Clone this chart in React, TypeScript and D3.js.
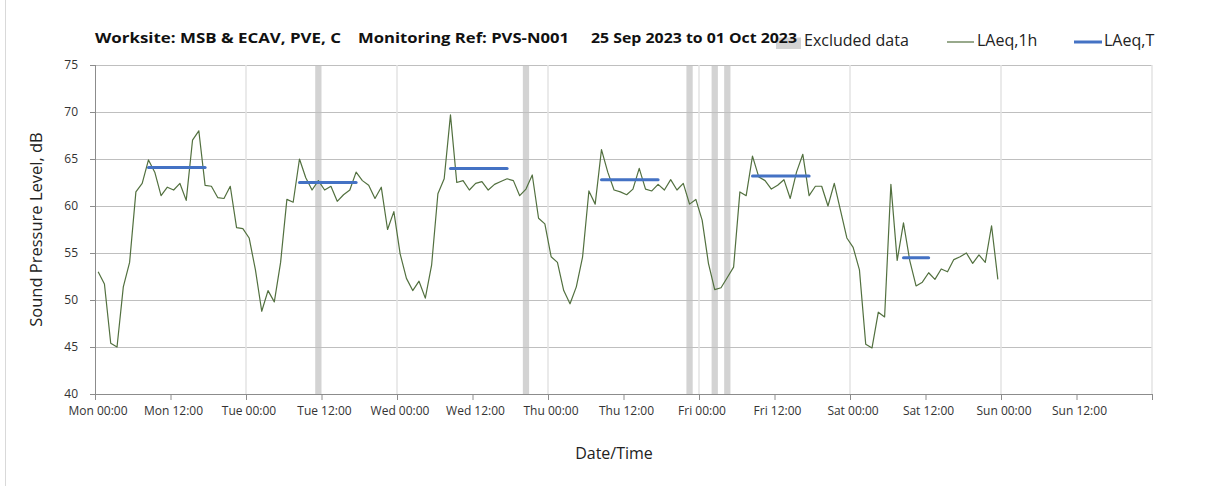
import React from 'react'
import * as d3 from 'd3'

// hourly LAeq,1h values, one array per day (points at hh:30)
const mon = [53.0, 51.7, 45.4, 45.0, 51.4, 54.0, 61.5, 62.4, 64.9, 63.6, 61.1, 62.0, 61.7, 62.4, 60.6, 67.0, 68.0, 62.2, 62.1, 60.9, 60.8, 62.1, 57.7, 57.6]
const tue = [56.6, 53.2, 48.8, 51.0, 49.8, 54.0, 60.7, 60.4, 65.0, 63.0, 61.7, 62.7, 61.7, 62.1, 60.5, 61.2, 61.7, 63.6, 62.7, 62.2, 60.8, 62.0, 57.5, 59.4]
const wed = [54.9, 52.3, 51.0, 52.0, 50.2, 53.7, 61.3, 62.9, 69.7, 62.5, 62.7, 61.7, 62.4, 62.6, 61.7, 62.3, 62.6, 62.9, 62.7, 61.1, 61.8, 63.3, 58.7, 58.1]
const thu = [54.6, 54.0, 51.0, 49.6, 51.4, 54.6, 61.6, 60.2, 66.0, 63.6, 61.7, 61.5, 61.2, 61.8, 64.0, 61.8, 61.6, 62.3, 61.7, 62.8, 61.7, 62.4, 60.2, 60.7]
const fri = [58.5, 53.9, 51.1, 51.3, 52.4, 53.5, 61.5, 61.1, 65.3, 63.1, 62.7, 61.8, 62.2, 62.8, 60.8, 63.6, 65.5, 61.1, 62.1, 62.1, 60.0, 62.4, 59.5, 56.6]
const sat = [55.6, 53.2, 45.3, 44.9, 48.7, 48.2, 62.3, 54.2, 58.2, 54.2, 51.5, 51.9, 52.9, 52.2, 53.3, 53.0, 54.3, 54.6, 55.0, 53.9, 54.8, 54.0, 57.9, 52.2]

// LAeq,T daytime periods (hours from Mon 00:00)
const periodStart = [8.5, 32.5, 56.5, 80.5, 104.5, 128.5]
const periodEnd = [17.5, 41.5, 65.5, 89.5, 113.5, 132.5]
const periodLevel = [64.1, 62.5, 64.0, 62.8, 63.2, 54.5]

// excluded data, hour slots from Mon 00:00
const excludedHours = [35, 68, 94, 98, 100]

const dayNames = ['Mon', 'Tue', 'Wed', 'Thu', 'Fri', 'Sat', 'Sun']
const yTicks = [40, 45, 50, 55, 60, 65, 70, 75]

const font = '"Open Sans", sans-serif'
const lineColor = '#52703f'
const blue = '#4472c4'

export default function App() {
  const margin = { left: 95, right: 1152, top: 65, bottom: 394 }

  const x = d3.scaleLinear().domain([0, 168]).range([margin.left, margin.right])
  const y = d3.scaleLinear().domain([40, 75]).range([margin.bottom, margin.top])

  const hourly = [...mon, ...tue, ...wed, ...thu, ...fri, ...sat]
  const line = d3.line<number>()
    .x((d, i) => x(i + 0.5))
    .y(d => y(d))

  const xTicks = d3.range(0, 169, 12)
  const dayLines = d3.range(24, 169, 24)

  return (
    <svg width={1208} height={486} style={{ position: 'absolute', left: 0, top: 0, background: '#fff' }} fontFamily={font}>
      <line x1={5.5} x2={5.5} y1={0} y2={486} stroke="#d9d9d9" />

      {/* excluded data bands */}
      {excludedHours.map((h, i) => (
        <rect key={'ex' + i} x={x(h)} y={margin.top} width={x(h + 1) - x(h)} height={margin.bottom - margin.top} fill="#d3d3d3" />
      ))}

      {/* horizontal grid */}
      {yTicks.map(t => (
        <line key={'g' + t} x1={margin.left} x2={margin.right} y1={y(t) + 0.5} y2={y(t) + 0.5} stroke="#bfbfbf" />
      ))}
      {/* day boundaries */}
      {dayLines.map(h => (
        <line key={'d' + h} x1={x(h)} x2={x(h)} y1={margin.top} y2={margin.bottom} stroke="#e3e3e3" strokeWidth={1.5} />
      ))}

      {/* axes */}
      <line x1={margin.left + 0.5} x2={margin.left + 0.5} y1={margin.top} y2={margin.bottom} stroke="#8c8c8c" />
      <line x1={margin.left} x2={margin.right} y1={margin.bottom + 0.5} y2={margin.bottom + 0.5} stroke="#8c8c8c" />
      {yTicks.map(t => (
        <g key={'yt' + t}>
          <line x1={margin.left - 5} x2={margin.left} y1={y(t) + 0.5} y2={y(t) + 0.5} stroke="#8c8c8c" />
          <text x={78} y={y(t) + 4} textAnchor="end" fontSize={12} fill="#333">{t}</text>
        </g>
      ))}
      {xTicks.map((h, i) => (
        <g key={'xt' + h}>
          <line x1={x(h) + 0.5} x2={x(h) + 0.5} y1={margin.bottom} y2={margin.bottom + 6} stroke="#8c8c8c" />
          {i < 14 && (
            <text x={x(h) + 3} y={415} textAnchor="middle" fontSize={12} fill="#333">
              {dayNames[Math.floor(h / 24)] + (h % 24 === 0 ? ' 00:00' : ' 12:00')}
            </text>
          )}
        </g>
      ))}

      {/* LAeq,1h */}
      <path d={line(hourly) || ''} fill="none" stroke={lineColor} strokeWidth={1.2} strokeLinejoin="round" />

      {/* LAeq,T */}
      {periodLevel.map((v, i) => (
        <line key={'p' + i} x1={x(periodStart[i])} x2={x(periodEnd[i])} y1={y(v)} y2={y(v)} stroke={blue} strokeWidth={3} strokeLinecap="round" />
      ))}

      {/* axis titles */}
      <text transform={`translate(42,${(margin.top + margin.bottom) / 2}) rotate(-90)`} textAnchor="middle" fontSize={16.5} fill="#222">Sound Pressure Level, dB</text>
      <text x={614} y={459} textAnchor="middle" fontSize={16} fill="#222">Date/Time</text>

      {/* legend */}
      <rect x={776} y={37.5} width={25} height={11.5} fill="#d3d3d3" />
      <text x={804} y={46} fontSize={16} fill="#222">Excluded data</text>
      <line x1={947} x2={974} y1={42} y2={42} stroke={lineColor} strokeWidth={1.2} />
      <text x={977} y={46} fontSize={16} fill="#222">LAeq,1h</text>
      <line x1={1074} x2={1102} y1={42} y2={42} stroke={blue} strokeWidth={3} />
      <text x={1104} y={46} fontSize={16} fill="#222">LAeq,T</text>

      {/* title */}
      <g fontWeight="bold" fontSize={15} fill="#111">
        <text x={95} y={43} textLength={246} lengthAdjust="spacingAndGlyphs">Worksite: MSB &amp; ECAV, PVE, C</text>
        <text x={358} y={43} textLength={211} lengthAdjust="spacingAndGlyphs">Monitoring Ref: PVS-N001</text>
        <text x={591} y={43} textLength={206} lengthAdjust="spacingAndGlyphs">25 Sep 2023 to 01 Oct 2023</text>
      </g>
    </svg>
  )
}
